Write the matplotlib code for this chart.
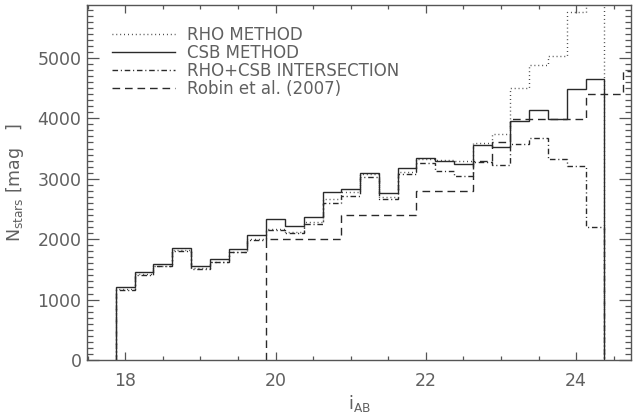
import numpy as np
import matplotlib
matplotlib.use("Agg")
import matplotlib.pyplot as plt
from matplotlib.ticker import MultipleLocator

plt.rcParams['font.family'] = ['DejaVu Sans']
plt.rcParams['mathtext.default'] = 'regular'

# bin layout (0.25 mag bins)
bin_start = 17.875
bin_width = 0.25

# CSB METHOD (solid)
csb = [1214, 1452, 1589, 1860, 1556, 1667, 1832, 2075, 2334, 2218, 2362, 2776, 2831,
       3101, 2759, 3173, 3350, 3300, 3250, 3554, 3521, 3957, 4145, 3990, 4481, 4658]
# RHO METHOD (dotted)
rho = [1175, 1424, 1562, 1821, 1523, 1628, 1794, 2005, 2165, 2125, 2290, 2660, 2776,
       3079, 2704, 3110, 3330, 3311, 3290, 3598, 3742, 4505, 4890, 5033, 5767, 6000]
# RHO+CSB INTERSECTION (dash-dot)
inter = [1159, 1410, 1550, 1810, 1510, 1615, 1780, 1990, 2150, 2108, 2252, 2605, 2715,
         3035, 2660, 3085, 3260, 3125, 3040, 3280, 3223, 3571, 3670, 3322, 3212, 2208]
# Robin et al. (2007) (dashed), starts at i=19.875
robin_start = 19.875
robin = [2000, 2000, 2000, 2000, 2400, 2400, 2400, 2400, 2800, 2800, 2800, 3300,
         3610, 3985, 3985, 3990, 3990, 4404, 4404, 4790]

labels = ["RHO METHOD", "CSB METHOD", "RHO+CSB INTERSECTION", "Robin et al. (2007)"]

edges = bin_start + bin_width * np.arange(len(csb) + 1)
robin_edges = robin_start + bin_width * np.arange(len(robin) + 1)

line_col = '#2a2a2a'
text_col = '#606060'

fig = plt.figure(figsize=(6.33, 4.17), dpi=100)
ax = fig.add_axes([87/633, 1 - 360/417, (631 - 87)/633, (360 - 5)/417])

lw = 1.0
ax.stairs(rho, edges, baseline=0, color=line_col, lw=lw, linestyle=(0, (0.6, 2.2)), label=labels[0])
ax.stairs(csb, edges, baseline=0, color=line_col, lw=lw, linestyle='-', label=labels[1])
ax.stairs(inter, edges, baseline=0, color=line_col, lw=lw, linestyle=(0, (4, 2, 0.8, 2)), label=labels[2])
ax.stairs(robin, robin_edges, baseline=0, color=line_col, lw=lw, linestyle=(0, (5.5, 3.5)), label=labels[3])

ax.set_xlim(17.49, 24.73)
ax.set_ylim(0, 5875)

ax.xaxis.set_major_locator(MultipleLocator(2))
ax.xaxis.set_minor_locator(MultipleLocator(0.5))
ax.yaxis.set_major_locator(MultipleLocator(1000))
ax.yaxis.set_minor_locator(MultipleLocator(100))

for s in ax.spines.values():
    s.set_color('#555555')
    s.set_linewidth(1.0)

ax.tick_params(axis='both', which='both', direction='in', colors='#555555',
               labelcolor=text_col, labelsize=12.5, width=0.9)
ax.tick_params(axis='x', which='major', length=6, top=True, bottom=True, pad=9)
ax.tick_params(axis='x', which='minor', length=3, top=True, bottom=True)
ax.tick_params(axis='y', which='major', length=8.5, left=True, right=True, pad=4)
ax.tick_params(axis='y', which='minor', length=4.3, left=True, right=True)

ax.set_xlabel(r"i$_{AB}$", fontsize=12.5, color=text_col, labelpad=2)
ax.set_ylabel(r"N$_{stars}$ [mag   ]", fontsize=12.5, color=text_col, labelpad=8)

leg = ax.legend(loc='upper left', bbox_to_anchor=(0.046, 0.941), frameon=False,
                fontsize=12, handlelength=3.8, handletextpad=0.72, labelspacing=0.0,
                borderaxespad=0, borderpad=0)
for t in leg.get_texts():
    t.set_color(text_col)

fig.savefig("out.png", dpi=100)
